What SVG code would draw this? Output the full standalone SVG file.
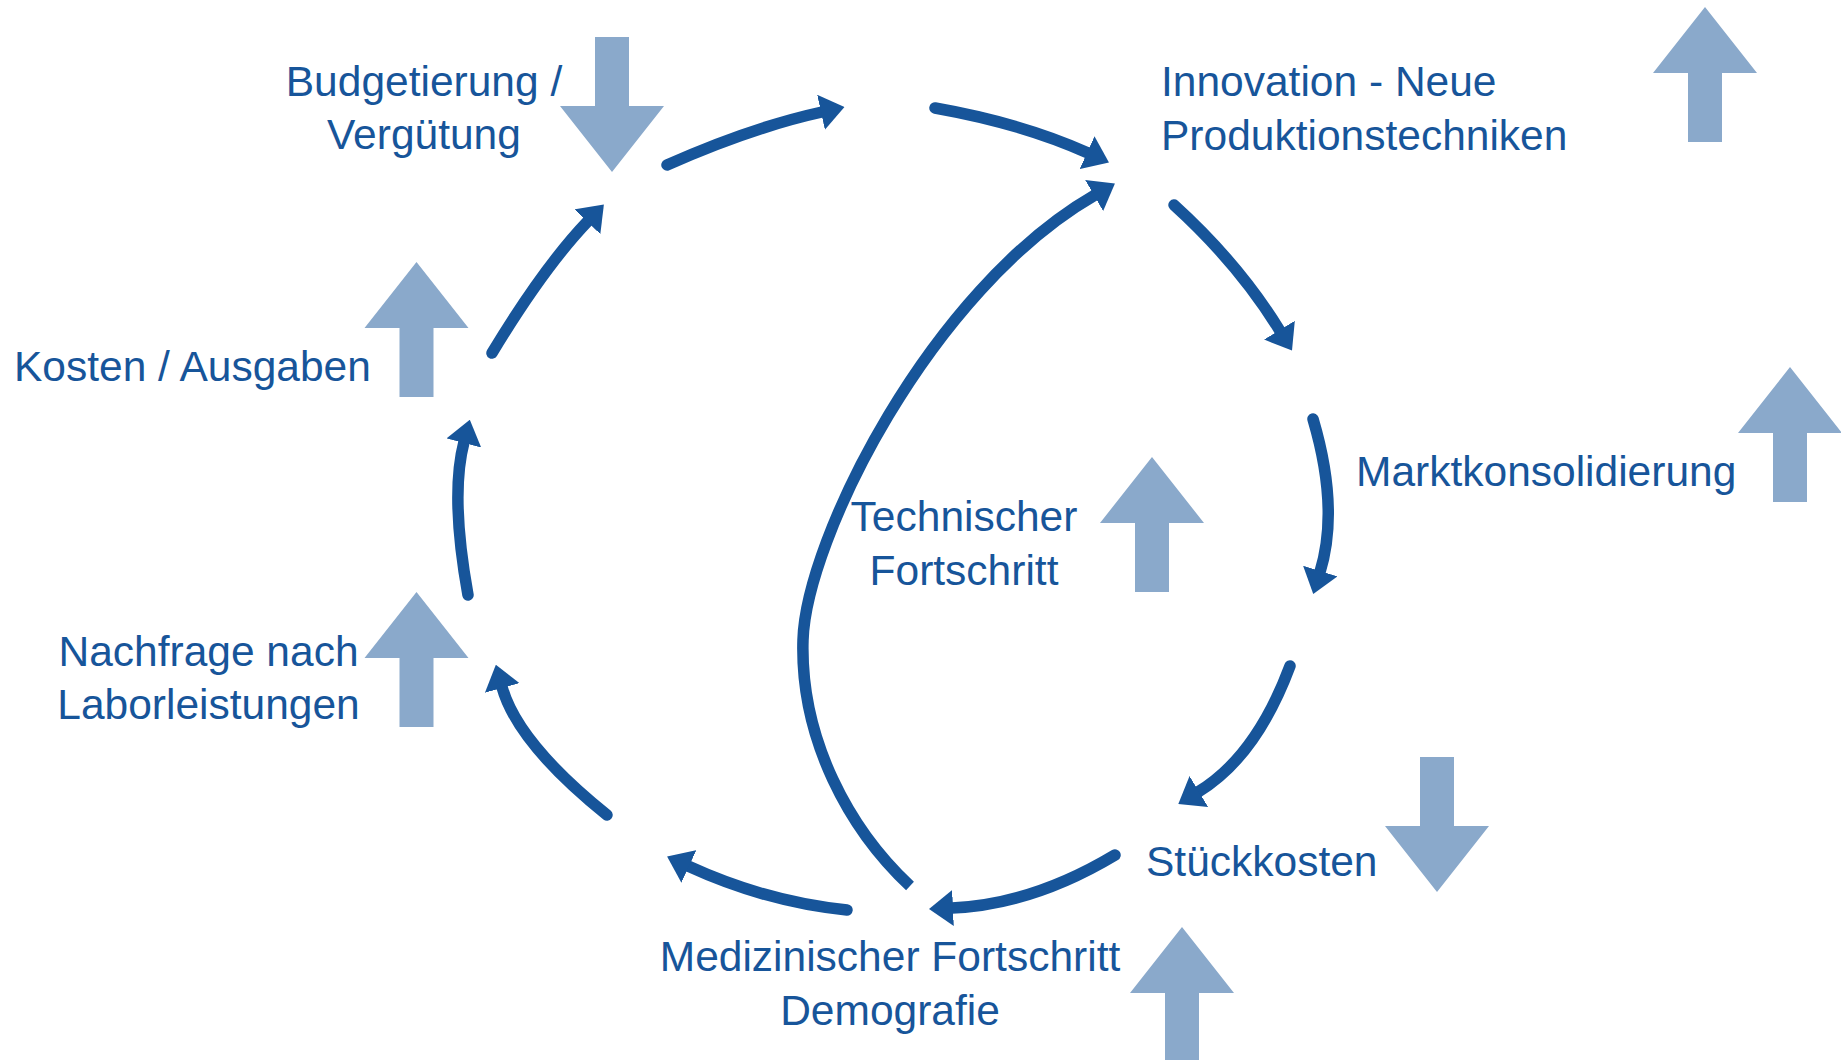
<svg xmlns="http://www.w3.org/2000/svg" width="1841" height="1060" viewBox="0 0 1841 1060">
  <style>
    .lbl { font-family: "Liberation Sans", Arial, sans-serif; font-size: 42.5px; fill: #17559A; }
    .mid { text-anchor: middle; }
    .trend { fill: #8AA9CB; }
    .flow { fill: none; stroke: #17559A; stroke-width: 11.5; stroke-linecap: round; marker-end: url(#head); }
  </style>
  <defs>
    <marker id="head" markerUnits="userSpaceOnUse" viewBox="0 0 24 36" markerWidth="24" markerHeight="36" refX="1" refY="18" orient="auto">
      <path d="M0,0 L24,18 L0,36 Z" fill="#17559A"/>
    </marker>
    <!-- block arrow pointing up, tip at origin -->
    <polygon id="up" points="0,0 52,66 17,66 17,135 -17,135 -17,66 -52,66"/>
  </defs>
  <rect width="1841" height="1060" fill="#FFFFFF"/>

  <!-- connectors of the cycle -->
  <g id="connectors">
    <path class="flow" d="M667,165 Q751.5,127.5 822,112"/>
    <path class="flow" d="M935,108 Q1022.5,123.5 1088,153"/>
    <path class="flow" d="M1174,205 Q1239,264 1280,331"/>
    <path class="flow" d="M1313,419 Q1339.5,508.5 1320,572"/>
    <path class="flow" d="M1290,666 Q1256,757 1198,792"/>
    <path class="flow" d="M1115,855 Q1032.5,904.5 952,908"/>
    <path class="flow" d="M847,910 Q766.5,902 688,866"/>
    <path class="flow" d="M607,815 Q517.5,743 502,687"/>
    <path class="flow" d="M468,595 Q450,495.5 464,442"/>
    <path class="flow" d="M492,353 Q544,267 588,221"/>
    <path class="flow" style="stroke-linecap: butt" d="M910,886 C850,830 800,740 803,640 C806,540 930,290 1095,195"/>
  </g>

  <g id="budgetierung">
    <use href="#up" class="trend" transform="translate(612,172) rotate(180)"/>
    <text class="lbl mid" x="424" y="96">Budgetierung /</text>
    <text class="lbl mid" x="424" y="149">Vergütung</text>
  </g>

  <g id="innovation">
    <use href="#up" class="trend" transform="translate(1705,7)"/>
    <text class="lbl" x="1161" y="96">Innovation - Neue</text>
    <text class="lbl" x="1161" y="149.5">Produktionstechniken</text>
  </g>

  <g id="kosten">
    <use href="#up" class="trend" transform="translate(416.5,262)"/>
    <text class="lbl" x="14" y="381">Kosten / Ausgaben</text>
  </g>

  <g id="nachfrage">
    <use href="#up" class="trend" transform="translate(416.5,592)"/>
    <text class="lbl mid" x="208.5" y="666">Nachfrage nach</text>
    <text class="lbl mid" x="208.5" y="719">Laborleistungen</text>
  </g>

  <g id="technik">
    <use href="#up" class="trend" transform="translate(1152,457)"/>
    <text class="lbl mid" x="964" y="530.5">Technischer</text>
    <text class="lbl mid" x="964" y="584.5">Fortschritt</text>
  </g>

  <g id="markt">
    <use href="#up" class="trend" transform="translate(1790,367)"/>
    <text class="lbl" x="1356" y="486">Marktkonsolidierung</text>
  </g>

  <g id="stueckkosten">
    <use href="#up" class="trend" transform="translate(1437,892) rotate(180)"/>
    <text class="lbl" x="1146" y="876">Stückkosten</text>
  </g>

  <g id="medizin">
    <use href="#up" class="trend" transform="translate(1182,927)"/>
    <text class="lbl mid" x="890" y="971">Medizinischer Fortschritt</text>
    <text class="lbl mid" x="890" y="1025">Demografie</text>
  </g>
</svg>
